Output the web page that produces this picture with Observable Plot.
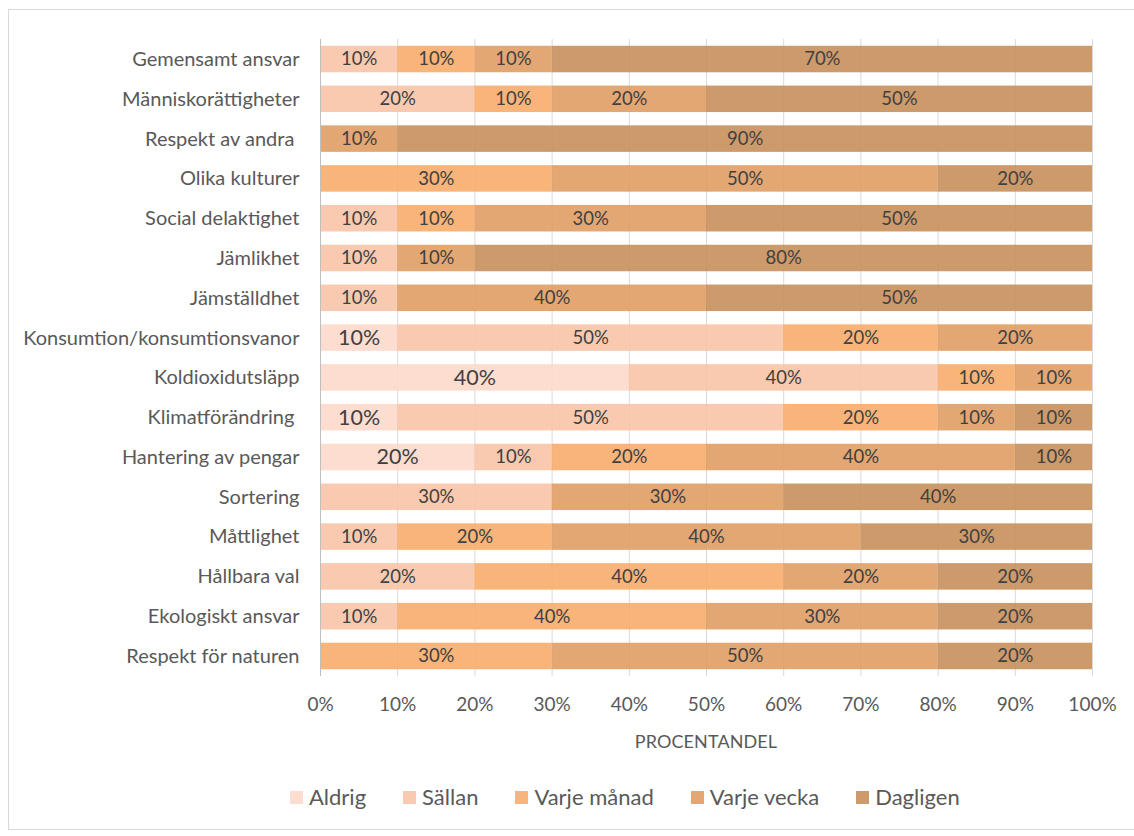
<!DOCTYPE html>
<html>
<head>
<meta charset="utf-8">
<script src="https://cdn.jsdelivr.net/npm/d3@7"></script>
<script src="https://cdn.jsdelivr.net/npm/@observablehq/plot@0.6"></script>
<style>
  html, body { margin: 0; padding: 0; background: #fff; }
  body { width: 1134px; height: 836px; position: relative; overflow: hidden; font-family: Lato, "Open Sans", sans-serif; }
  #frame { position: absolute; left: 8px; top: 9px; width: 1130px; height: 821px; border: 1px solid #D9D9D9; box-sizing: border-box; }
  #chart { position: absolute; left: 0; top: 0; }
  #xlabel { position: absolute; top: 729px; left: 0; width: 1134px; text-align: center; padding-left: 278px; box-sizing: border-box; font-size: 18px; line-height: 24px; color: #595959; letter-spacing: 0.1px; }
  #legend { position: absolute; top: 783px; left: 290px; display: flex; gap: 37px; font-size: 22px; line-height: 28px; color: #595959; align-items: center; }
  #legend .item { display: flex; align-items: center; gap: 6px; }
  #legend .sw { width: 13px; height: 13px; display: inline-block; }
</style>
</head>
<body>
<div id="frame"></div>
<div id="chart"></div>
<div id="xlabel">PROCENTANDEL</div>
<div id="legend"></div>
<script>
const categories = [
  "Gemensamt ansvar",
  "Människorättigheter",
  "Respekt av andra ",
  "Olika kulturer",
  "Social delaktighet",
  "Jämlikhet",
  "Jämställdhet",
  "Konsumtion/konsumtionsvanor",
  "Koldioxidutsläpp",
  "Klimatförändring ",
  "Hantering av pengar",
  "Sortering",
  "Måttlighet",
  "Hållbara val",
  "Ekologiskt ansvar",
  "Respekt för naturen"
];
const seriesNames = ["Aldrig", "Sällan", "Varje månad", "Varje vecka", "Dagligen"];
const aldrig     = [0, 0, 0, 0, 0, 0, 0, 10, 40, 10, 20, 0, 0, 0, 0, 0];
const sallan     = [10, 20, 0, 0, 10, 10, 10, 50, 40, 50, 10, 30, 10, 20, 10, 0];
const varjeManad = [10, 10, 0, 30, 10, 0, 0, 20, 10, 20, 20, 0, 20, 40, 40, 30];
const varjeVecka = [10, 20, 10, 50, 30, 10, 40, 20, 10, 10, 40, 30, 40, 20, 30, 50];
const dagligen   = [70, 50, 90, 20, 50, 80, 50, 0, 0, 10, 10, 40, 30, 20, 20, 20];
const xTicks = [0, 10, 20, 30, 40, 50, 60, 70, 80, 90, 100];
const colors = ["#FCD8C8", "#F8C3A5", "#F8AA68", "#DF9B61", "#C68C57"];
const legendColors = ["#FCDDCF", "#F9CAB0", "#F8B47A", "#E3A774", "#CD9A6B"];

const seriesValues = [aldrig, sallan, varjeManad, varjeVecka, dagligen];
const data = [];
categories.forEach((c, i) => {
  seriesNames.forEach((s, j) => {
    const v = seriesValues[j][i];
    if (v > 0) data.push({cat: c, series: s, value: v});
  });
});

const chart = Plot.plot({
  width: 1134,
  height: 760,
  marginLeft: 320,
  marginRight: 42,
  marginTop: 39,
  marginBottom: 84,
  style: {fontFamily: "Lato, 'Open Sans', sans-serif", background: "transparent"},
  x: {domain: [0, 100], ticks: xTicks, tickFormat: d => d + "%", label: null},
  y: {domain: categories, paddingInner: 0.334, paddingOuter: 0.17, round: false, label: null},
  color: {domain: seriesNames, range: colors},
  marks: [
    Plot.ruleX(xTicks.slice(1), {stroke: "#D9D9D9", strokeWidth: 1}),
    Plot.barX(data, Plot.stackX({x: "value", y: "cat", fill: "series", z: "series", order: seriesNames, fillOpacity: 0.88})),
    Plot.ruleX([0], {stroke: "#BFBFBF", strokeWidth: 1}),
    Plot.text(data, Plot.stackX({
      x: "value", y: "cat", z: "series", order: seriesNames,
      text: d => d.value + "%",
      fontSize: d => d.series === "Aldrig" ? 21.5 : 18.5,
      fill: "#404040"
    })),
    Plot.axisX({ticks: xTicks, tickFormat: d => d + "%", tickSize: 0, tickPadding: 21, fontSize: 19, color: "#595959", label: null}),
    Plot.axisY({tickSize: 0, tickPadding: 21, fontSize: 20, color: "#595959", label: null})
  ]
});
document.getElementById("chart").appendChild(chart);

const legend = document.getElementById("legend");
seriesNames.forEach((s, j) => {
  const item = document.createElement("div");
  item.className = "item";
  const sw = document.createElement("span");
  sw.className = "sw";
  sw.style.background = legendColors[j];
  const t = document.createElement("span");
  t.textContent = s;
  item.appendChild(sw);
  item.appendChild(t);
  legend.appendChild(item);
});
</script>
</body>
</html>
